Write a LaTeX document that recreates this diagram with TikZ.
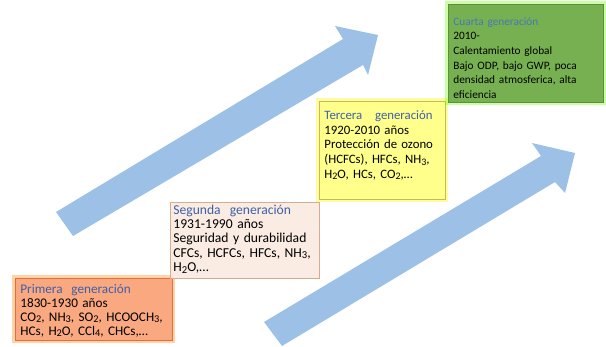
\documentclass[tikz,border=0pt]{standalone}
\usepackage{fontspec}
\setmainfont{Carlito}
\usetikzlibrary{positioning}
\definecolor{arrowblue}{RGB}{157,193,230}
\definecolor{titleblue}{RGB}{62,96,168}
\definecolor{titlelight}{RGB}{70,120,185}
\definecolor{orfill}{RGB}{249,168,128}
\definecolor{ordraw}{RGB}{222,112,62}
\definecolor{pkfill}{RGB}{250,236,226}
\definecolor{pkdraw}{RGB}{214,172,142}
\definecolor{yefill}{RGB}{255,255,140}
\definecolor{yedraw}{RGB}{196,190,70}
\definecolor{grfill}{RGB}{118,176,80}
\definecolor{grdraw}{RGB}{92,142,60}
\setlength{\lineskiplimit}{-20pt}
\newcommand{\lowidx}[1]{\raisebox{-0.25ex}{\scalebox{0.78}{#1}}}
\newcommand{\gentitle}[1]{\textcolor{titleblue}{#1}}
% top and bottom struts: first baseline and last depth
\newcommand{\topgap}[1]{\rule{0pt}{#1}}
\newcommand{\botgap}[1]{\rule[-#1]{0pt}{0pt}}
\tikzstyle{genbox}=[draw,line width=0.8pt,anchor=north west,align=left,inner xsep=5pt,inner ysep=0pt]
\tikzstyle{bigarrow}=[fill=arrowblue,draw=none]
\tikzset{glow/.style={preaction={draw=#1,line width=6pt,opacity=0.35}},
  boxfont/.style 2 args={font=\fontsize{#1}{#2}\selectfont}}

\begin{document}
\begin{tikzpicture}[x=1pt,y=-1pt]
\useasboundingbox (0,0) rectangle (606,347);
% arrows
\fill[bigarrow] (56,212) -- (343,39) -- (335,26) -- (378,35) -- (368,75) -- (363,65) -- (73,236) -- cycle;
\fill[bigarrow] (264,322) -- (541,156) -- (532,143) -- (575,153) -- (565,193) -- (555,182) -- (282,346) -- cycle;
% generations
\node[genbox,fill=orfill,draw=ordraw,glow=orange,boxfont={13.2}{14},text width=147pt] (primera) at (15,278)
  {\topgap{15pt}\gentitle{Primera~~generación}\\
   1830-1930 años\\
   CO\lowidx{2}, NH\lowidx{3}, SO\lowidx{2}, HCOOCH\lowidx{3},\\
   HCs, H\lowidx{2}O, CCl\lowidx{4}, CHCs,\ldots\botgap{5pt}};
\node[genbox,fill=pkfill,draw=pkdraw,boxfont={13.6}{14.3},text width=143pt,inner xsep=3pt] (segunda) at (170,202)
  {\topgap{12pt}\gentitle{Segunda~~generación}\\
   1931-1990 años\\
   Seguridad y durabilidad\\
   CFCs, HCFCs, HFCs, NH\lowidx{3},\\
   H\lowidx{2}O,\ldots\botgap{7pt}};
\node[genbox,fill=yefill,draw=yedraw,glow=yellow,boxfont={12.8}{14.7},text width=116pt] (tercera) at (319,101)
  {\topgap{18pt}\gentitle{Tercera~~~generación}\\
   1920-2010 años\\
   Protección de ozono\\
   (HCFCs), HFCs, NH\lowidx{3},\\
   H\lowidx{2}O, HCs, CO\lowidx{2},\ldots\botgap{21pt}};
\node[genbox,fill=grfill,draw=grdraw,glow=green!60!yellow,boxfont={11.3}{14.6},text width=145pt] (cuarta) at (448,4)
  {\topgap{21pt}\textcolor{titlelight}{Cuarta generación}\\
   2010-\\
   Calentamiento global\\
   Bajo ODP, bajo GWP, poca\\
   densidad atmosferica, alta\\
   eficiencia\botgap{4pt}};
\end{tikzpicture}
\end{document}
